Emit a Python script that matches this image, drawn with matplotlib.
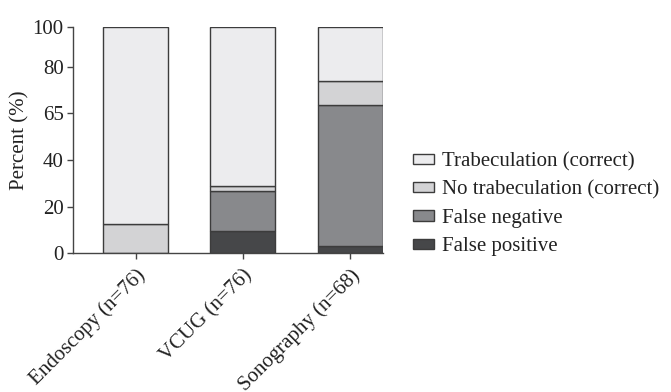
import numpy as np
import matplotlib
matplotlib.use("Agg")
import matplotlib.pyplot as plt
from matplotlib.patches import Patch

plt.rcParams['font.family'] = ['Liberation Serif', 'DejaVu Serif']

# data (percent of cases per method)
methods = ["Endoscopy (n=76)", "VCUG (n=76)", "Sonography (n=68)"]
false_positive = [0.0, 9.7, 3.3]
false_negative = [0.0, 17.2, 60.3]
no_trab_correct = [12.6, 2.0, 10.4]
trab_correct = [87.4, 71.1, 26.0]

y_ticks = [0, 20, 40, 60, 80, 100]
y_tick_labels = ["0", "20", "40", "65", "80", "100"]

colors = {
    "fp": "#464749",
    "fn": "#88898c",
    "nt": "#d3d3d5",
    "tc": "#ececee",
}
edge = "#3c3c3c"


# the printed axis squeezes the 80-100 section a bit
def fwd(y):
    y = np.asarray(y, dtype=float)
    return np.where(y <= 80, y, 80 + (y - 80) * 0.857)


def inv(y):
    y = np.asarray(y, dtype=float)
    return np.where(y <= 80, y, 80 + (y - 80) / 0.857)


fs = 15

fig = plt.figure(figsize=(6.71, 3.92), dpi=100)
ax = fig.add_axes([0.1093, 0.3538, 0.461, 0.578])
ax.set_yscale("function", functions=(fwd, inv))

x = np.arange(len(methods))
w = 0.607
bottom = np.zeros(len(methods))
series = [
    (false_positive, colors["fp"], "False positive"),
    (false_negative, colors["fn"], "False negative"),
    (no_trab_correct, colors["nt"], "No trabeculation (correct)"),
    (trab_correct, colors["tc"], "Trabeculation (correct)"),
]
for vals, c, lab in series:
    vals = np.array(vals)
    ax.bar(x, vals, w, bottom=bottom, color=c, edgecolor=edge, linewidth=1.0, label=lab)
    bottom += vals

ax.set_xlim(-0.584, 2.305)
ax.set_ylim(0, 100)
ax.set_yticks(y_ticks)
ax.set_yticklabels(y_tick_labels)
ax.set_xticks(x)
ax.set_xticklabels(methods, rotation=45, ha="right", rotation_mode="anchor")

for s in ["top", "right"]:
    ax.spines[s].set_visible(False)
for s in ["left", "bottom"]:
    ax.spines[s].set_color("#444444")
    ax.spines[s].set_linewidth(1.0)
ax.tick_params(axis="both", direction="out", length=4, width=1.0, color="#444444",
               labelsize=fs, labelcolor="#222222", pad=3)
ax.tick_params(axis="x", pad=5)
ax.set_ylabel("Percent (%)", fontsize=fs, color="#222222", labelpad=2)

handles = [Patch(facecolor=c, edgecolor=edge, linewidth=1.0) for _, c, _ in series][::-1]
labels = [lab for _, _, lab in series][::-1]
fig.legend(handles, labels, loc="upper left", bbox_to_anchor=(412.7 / 671, 0.612),
           frameon=False, fontsize=fs, handlelength=1.0, handleheight=0.38,
           handletextpad=0.4, labelspacing=0.44, borderpad=0, borderaxespad=0,
           labelcolor="#222222")

fig.savefig("out.png", dpi=100)
